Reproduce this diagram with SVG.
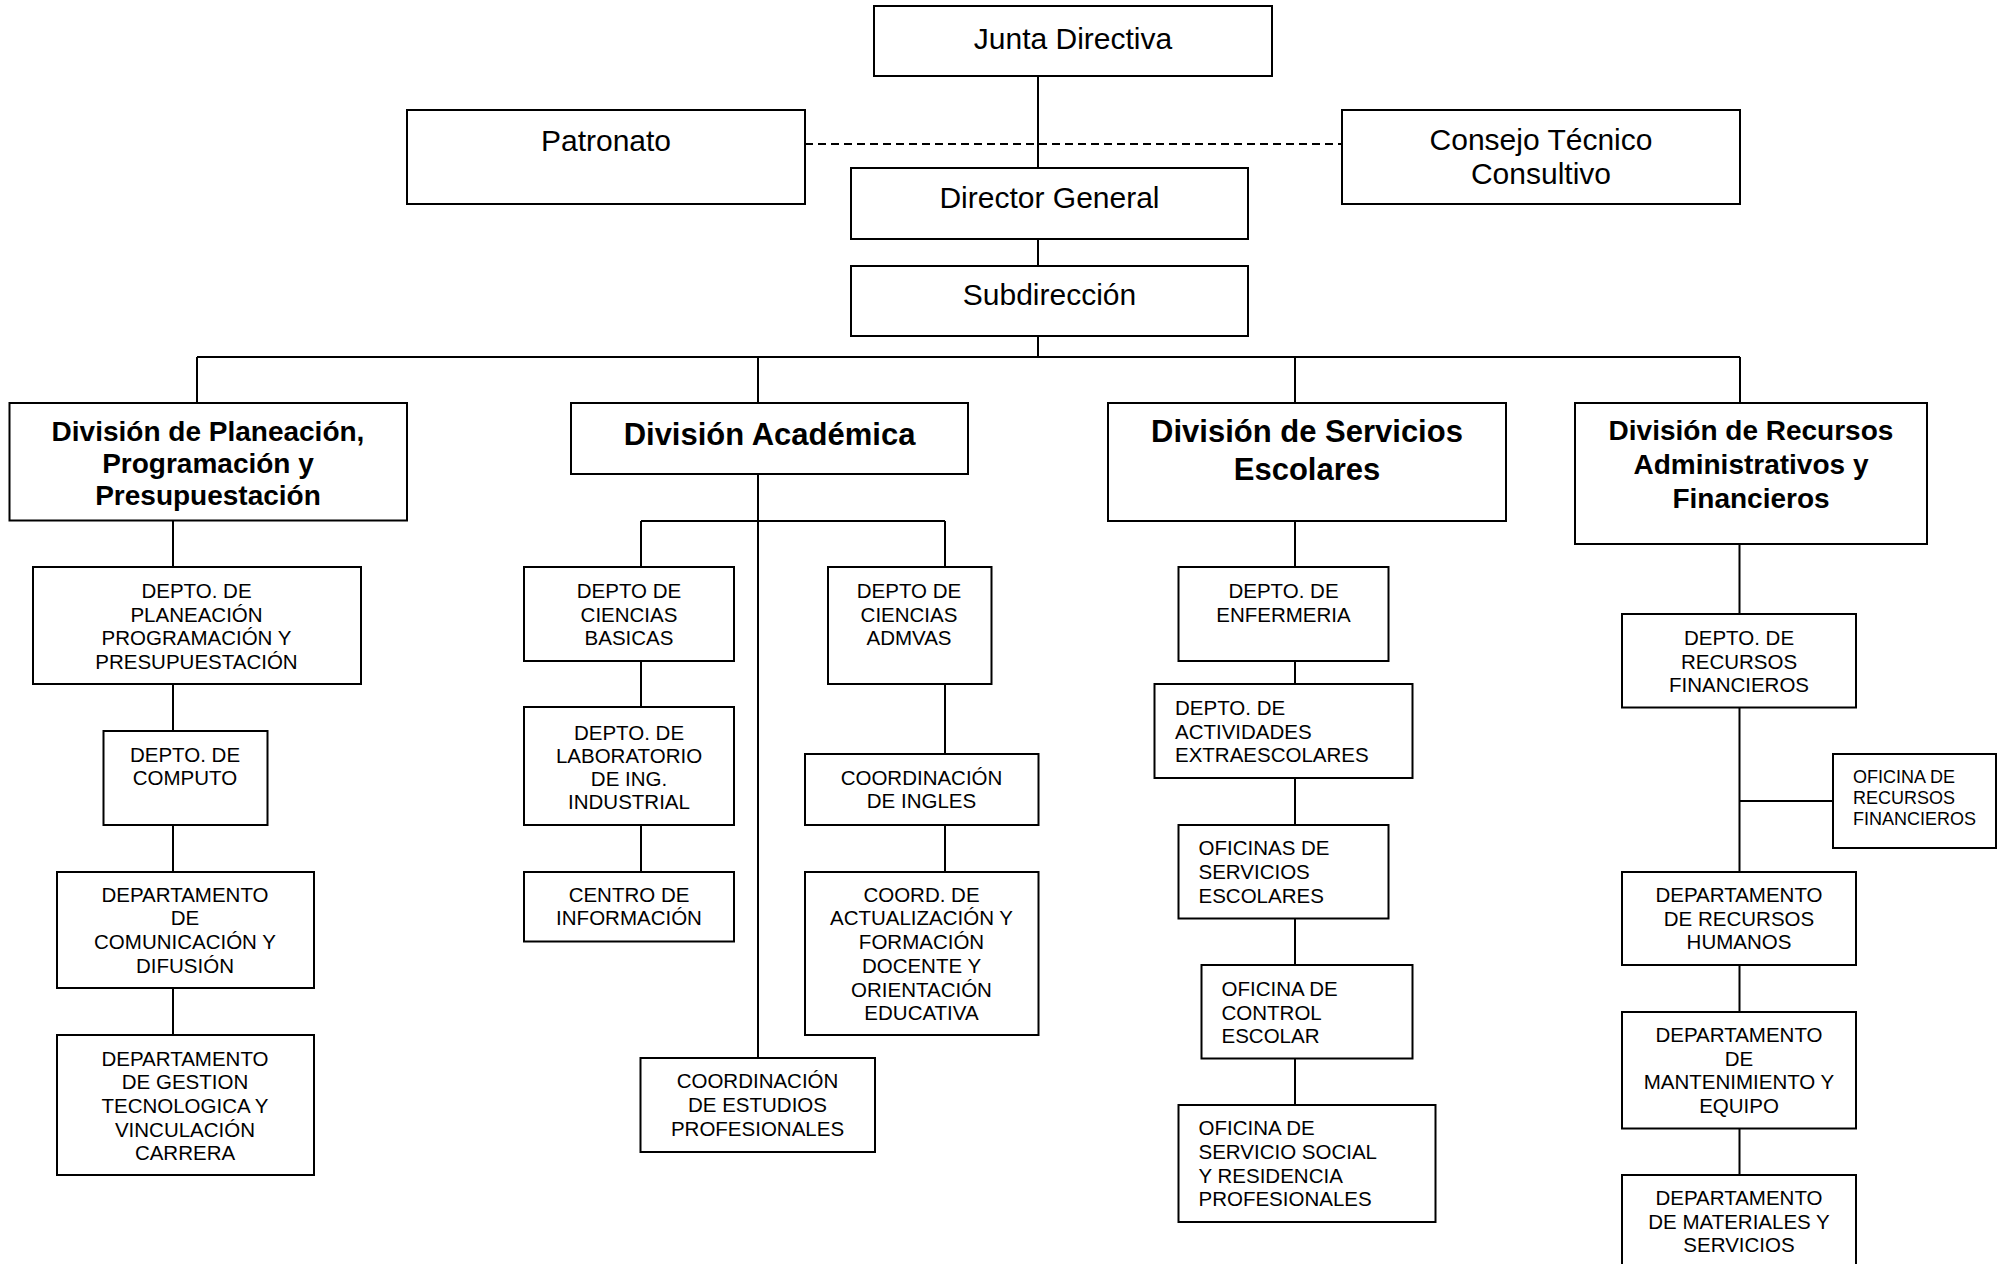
<svg xmlns="http://www.w3.org/2000/svg" width="2002" height="1264" viewBox="0 0 2002 1264">
<style>
.bg{fill:#fff}
.box{fill:#fff;stroke:#000;stroke-width:2}
.conn{fill:none;stroke:#000;stroke-width:2}
.dash{stroke-dasharray:8,5}
text{font-family:"Liberation Sans",Arial,sans-serif;fill:#000}
.top{font-size:30px;text-anchor:middle}
.div{font-size:28px;font-weight:bold;text-anchor:middle}
.divl{font-size:31px;font-weight:bold;text-anchor:middle}
.s{font-size:20.5px;text-anchor:middle}
.sl{font-size:20.5px;text-anchor:start}
.xs{font-size:18px;text-anchor:start}
</style>
<rect class="bg" x="0" y="0" width="2002" height="1264"/>
<g id="connectors">
<path class="conn" d="M1038,76V168M1038,239V266M1038,336V357"/>
<path class="conn dash" d="M805,144H1342"/>
<path class="conn" d="M197,357H1740M197,357V403M758,357V403M1295,357V403M1740,357V403"/>
<path class="conn" d="M173,521V567M173,684V731M173,825V872M173,988V1035"/>
<path class="conn" d="M758,474V1058M641,521H945M641,521V567M945,521V567M641,661V707M641,825V872M945,684V754M945,825V872"/>
<path class="conn" d="M1295,521V567M1295,661V684M1295,778V825M1295,918V965M1295,1058V1105"/>
<path class="conn" d="M1739.5,544V614M1739.5,707V872M1739.5,801H1833M1739.5,965V1012M1739.5,1128V1175"/>
</g>
<g id="junta"><rect class="box" x="874" y="6" width="398" height="70"/><text class="top" x="1073" y="48.5">Junta Directiva</text></g>
<g id="patronato"><rect class="box" x="407" y="110" width="398" height="94"/><text class="top" x="606" y="151">Patronato</text></g>
<g id="consejo"><rect class="box" x="1342" y="110" width="398" height="94"/><text class="top" x="1541"><tspan x="1541" y="149.5">Consejo Técnico</tspan><tspan x="1541" y="183.5">Consultivo</tspan></text></g>
<g id="director"><rect class="box" x="851" y="168" width="397" height="71"/><text class="top" x="1049.5" y="208">Director General</text></g>
<g id="subdireccion"><rect class="box" x="851" y="266" width="397" height="70"/><text class="top" x="1049.5" y="305">Subdirección</text></g>
<g id="div-planeacion"><rect class="box" x="9.5" y="403" width="397.5" height="117.5"/><text class="div"><tspan x="208" y="441">División de Planeación,</tspan><tspan x="208" y="473">Programación y</tspan><tspan x="208" y="505">Presupuestación</tspan></text></g>
<g id="div-academica"><rect class="box" x="571" y="403" width="397" height="71"/><text class="divl" x="769.5" y="445">División Académica</text></g>
<g id="div-servicios"><rect class="box" x="1108" y="403" width="398" height="118"/><text class="divl"><tspan x="1307" y="442">División de Servicios</tspan><tspan x="1307" y="480">Escolares</tspan></text></g>
<g id="div-recursos"><rect class="box" x="1575" y="403" width="352" height="141"/><text class="div"><tspan x="1751" y="440">División de Recursos</tspan><tspan x="1751" y="474">Administrativos y</tspan><tspan x="1751" y="508">Financieros</tspan></text></g>
<g id="depto-planeacion"><rect class="box" x="33" y="567" width="328" height="117"/><text class="s"><tspan x="196.5" y="598">DEPTO. DE</tspan><tspan x="196.5" y="621.5">PLANEACIÓN</tspan><tspan x="196.5" y="645">PROGRAMACIÓN Y</tspan><tspan x="196.5" y="668.5">PRESUPUESTACIÓN</tspan></text></g>
<g id="depto-computo"><rect class="box" x="103.5" y="731" width="164" height="94"/><text class="s"><tspan x="185" y="761.5">DEPTO. DE</tspan><tspan x="185" y="785">COMPUTO</tspan></text></g>
<g id="depto-comunicacion"><rect class="box" x="57" y="872" width="257" height="116"/><text class="s"><tspan x="185" y="901.5">DEPARTAMENTO</tspan><tspan x="185" y="925">DE</tspan><tspan x="185" y="949">COMUNICACIÓN Y</tspan><tspan x="185" y="973">DIFUSIÓN</tspan></text></g>
<g id="depto-gestion"><rect class="box" x="57" y="1035" width="257" height="140"/><text class="s"><tspan x="185" y="1065.5">DEPARTAMENTO</tspan><tspan x="185" y="1089">DE GESTION</tspan><tspan x="185" y="1112.5">TECNOLOGICA Y</tspan><tspan x="185" y="1136.5">VINCULACIÓN</tspan><tspan x="185" y="1160">CARRERA</tspan></text></g>
<g id="depto-basicas"><rect class="box" x="524" y="567" width="210" height="94"/><text class="s"><tspan x="629" y="598">DEPTO DE</tspan><tspan x="629" y="621.5">CIENCIAS</tspan><tspan x="629" y="645">BASICAS</tspan></text></g>
<g id="depto-laboratorio"><rect class="box" x="524" y="707" width="210" height="118"/><text class="s"><tspan x="629" y="739.5">DEPTO. DE</tspan><tspan x="629" y="762.5">LABORATORIO</tspan><tspan x="629" y="785.5">DE ING.</tspan><tspan x="629" y="808.5">INDUSTRIAL</tspan></text></g>
<g id="centro-informacion"><rect class="box" x="524" y="872" width="210" height="69.5"/><text class="s"><tspan x="629" y="901.5">CENTRO DE</tspan><tspan x="629" y="925">INFORMACIÓN</tspan></text></g>
<g id="depto-admvas"><rect class="box" x="828" y="567" width="163.5" height="117"/><text class="s"><tspan x="909" y="598">DEPTO DE</tspan><tspan x="909" y="621.5">CIENCIAS</tspan><tspan x="909" y="645">ADMVAS</tspan></text></g>
<g id="coord-ingles"><rect class="box" x="805" y="754" width="233.5" height="71"/><text class="s"><tspan x="921.5" y="785">COORDINACIÓN</tspan><tspan x="921.5" y="808">DE INGLES</tspan></text></g>
<g id="coord-actualizacion"><rect class="box" x="805" y="872" width="233.5" height="163"/><text class="s"><tspan x="921.5" y="901.5">COORD. DE</tspan><tspan x="921.5" y="925">ACTUALIZACIÓN Y</tspan><tspan x="921.5" y="949">FORMACIÓN</tspan><tspan x="921.5" y="973">DOCENTE Y</tspan><tspan x="921.5" y="996.5">ORIENTACIÓN</tspan><tspan x="921.5" y="1020">EDUCATIVA</tspan></text></g>
<g id="coord-estudios"><rect class="box" x="640.5" y="1058" width="234.5" height="94"/><text class="s"><tspan x="757.5" y="1088">COORDINACIÓN</tspan><tspan x="757.5" y="1112">DE ESTUDIOS</tspan><tspan x="757.5" y="1136">PROFESIONALES</tspan></text></g>
<g id="depto-enfermeria"><rect class="box" x="1178.5" y="567" width="210" height="94"/><text class="s"><tspan x="1283.5" y="598">DEPTO. DE</tspan><tspan x="1283.5" y="621.5">ENFERMERIA</tspan></text></g>
<g id="depto-actividades"><rect class="box" x="1154.5" y="684" width="258" height="94"/><text class="sl"><tspan x="1175" y="715">DEPTO. DE</tspan><tspan x="1175" y="738.5">ACTIVIDADES</tspan><tspan x="1175" y="762">EXTRAESCOLARES</tspan></text></g>
<g id="oficinas-servicios"><rect class="box" x="1178.5" y="825" width="210" height="93.5"/><text class="sl"><tspan x="1198.5" y="855">OFICINAS DE</tspan><tspan x="1198.5" y="879">SERVICIOS</tspan><tspan x="1198.5" y="902.5">ESCOLARES</tspan></text></g>
<g id="oficina-control"><rect class="box" x="1201.5" y="965" width="211" height="93.5"/><text class="sl"><tspan x="1221.5" y="996">OFICINA DE</tspan><tspan x="1221.5" y="1019.5">CONTROL</tspan><tspan x="1221.5" y="1043">ESCOLAR</tspan></text></g>
<g id="oficina-servicio-social"><rect class="box" x="1178.5" y="1105" width="257" height="117"/><text class="sl"><tspan x="1198.5" y="1135">OFICINA DE</tspan><tspan x="1198.5" y="1159">SERVICIO SOCIAL</tspan><tspan x="1198.5" y="1182.5">Y RESIDENCIA</tspan><tspan x="1198.5" y="1206">PROFESIONALES</tspan></text></g>
<g id="depto-recursos-fin"><rect class="box" x="1622" y="614" width="234" height="93.5"/><text class="s"><tspan x="1739" y="645">DEPTO. DE</tspan><tspan x="1739" y="668.5">RECURSOS</tspan><tspan x="1739" y="692">FINANCIEROS</tspan></text></g>
<g id="oficina-recursos-fin"><rect class="box" x="1833" y="754" width="163" height="94"/><text class="xs"><tspan x="1853" y="783">OFICINA DE</tspan><tspan x="1853" y="803.5">RECURSOS</tspan><tspan x="1853" y="824.5">FINANCIEROS</tspan></text></g>
<g id="depto-rrhh"><rect class="box" x="1622" y="872" width="234" height="93"/><text class="s"><tspan x="1739" y="901.5">DEPARTAMENTO</tspan><tspan x="1739" y="925.5">DE RECURSOS</tspan><tspan x="1739" y="949">HUMANOS</tspan></text></g>
<g id="depto-mantenimiento"><rect class="box" x="1622" y="1012" width="234" height="116.5"/><text class="s"><tspan x="1739" y="1041.5">DEPARTAMENTO</tspan><tspan x="1739" y="1065.5">DE</tspan><tspan x="1739" y="1089">MANTENIMIENTO Y</tspan><tspan x="1739" y="1113">EQUIPO</tspan></text></g>
<g id="depto-materiales"><rect class="box" x="1622" y="1175" width="234" height="100"/><text class="s"><tspan x="1739" y="1205">DEPARTAMENTO</tspan><tspan x="1739" y="1228.5">DE MATERIALES Y</tspan><tspan x="1739" y="1252">SERVICIOS</tspan></text></g>
</svg>
